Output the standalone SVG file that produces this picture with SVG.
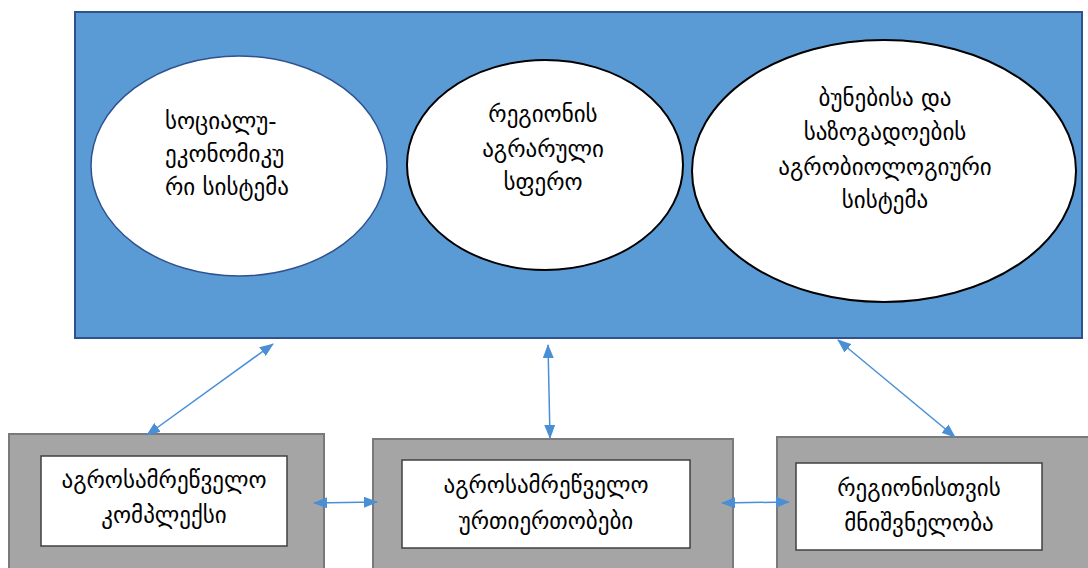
<svg xmlns="http://www.w3.org/2000/svg" width="1088" height="568" viewBox="0 0 1088 568">
<style>
.t{font-family:"DejaVu Sans","Noto Sans",sans-serif;font-size:23px;fill:#000}
.c{text-anchor:middle}
.outer{fill:#a5a5a5;stroke:#7a7a7a;stroke-width:2}
.inner{fill:#fff;stroke:#404040;stroke-width:1.5}
.ell{fill:#fff;stroke:#000;stroke-width:2}
.ar{stroke:#4a8fd6;stroke-width:1.5;fill:none;marker-start:url(#ah);marker-end:url(#ah)}
</style>
<defs>
<marker id="ah" viewBox="0 0 14 11" refX="13" refY="5.5" markerWidth="14" markerHeight="11" markerUnits="userSpaceOnUse" orient="auto-start-reverse">
<path d="M0,0 L14,5.5 L0,11 Z" fill="#4a8fd6"/>
</marker>
</defs>
<rect width="1088" height="568" fill="#fff"/>
<g id="top-block">
<rect x="75" y="12" width="1007" height="326" fill="#5b9bd5" stroke="#2f528f" stroke-width="2"/>
</g>
<g id="node-socio">
<ellipse cx="239" cy="166" rx="148" ry="110" fill="#fff" stroke="#2f528f" stroke-width="1.5"/>
<text class="t" x="165" y="129">სოციალუ-</text>
<text class="t" x="165" y="162">ეკონომიკუ</text>
<text class="t" x="165" y="195">რი სისტემა</text>
</g>
<g id="node-agrarian">
<ellipse class="ell" cx="545" cy="165" rx="138" ry="105"/>
<text class="t c" x="543" y="122">რეგიონის</text>
<text class="t c" x="543" y="157">აგრარული</text>
<text class="t c" x="543" y="190">სფერო</text>
</g>
<g id="node-agrobio">
<ellipse class="ell" cx="884" cy="171" rx="192" ry="131"/>
<text class="t c" x="885" y="106">ბუნებისა და</text>
<text class="t c" x="885" y="140">საზოგადოების</text>
<text class="t c" x="885" y="175">აგრობიოლოგიური</text>
<text class="t c" x="885" y="208">სისტემა</text>
</g>
<g id="node-complex">
<rect class="outer" x="9" y="434" width="315" height="140"/>
<rect class="inner" x="41" y="456" width="246" height="90"/>
<text class="t c" x="164" y="488">აგროსამრეწველო</text>
<text class="t c" x="164" y="523">კომპლექსი</text>
</g>
<g id="node-relations">
<rect class="outer" x="373" y="439" width="360" height="135"/>
<rect class="inner" x="402" y="460" width="288" height="88"/>
<text class="t c" x="546" y="493">აგროსამრეწველო</text>
<text class="t c" x="546" y="529">ურთიერთობები</text>
</g>
<g id="node-importance">
<rect class="outer" x="777" y="437" width="320" height="137"/>
<rect class="inner" x="796" y="463" width="246" height="87"/>
<text class="t c" x="919" y="496">რეგიონისთვის</text>
<text class="t c" x="919" y="531">მნიშვნელობა</text>
</g>
<g id="connectors">
<line class="ar" x1="273" y1="344" x2="147" y2="435"/>
<line class="ar" x1="548" y1="345" x2="550" y2="438"/>
<line class="ar" x1="838" y1="340" x2="955" y2="437"/>
<line class="ar" x1="314" y1="503" x2="377" y2="502"/>
<line class="ar" x1="722" y1="503" x2="789" y2="502"/>
</g>
</svg>
